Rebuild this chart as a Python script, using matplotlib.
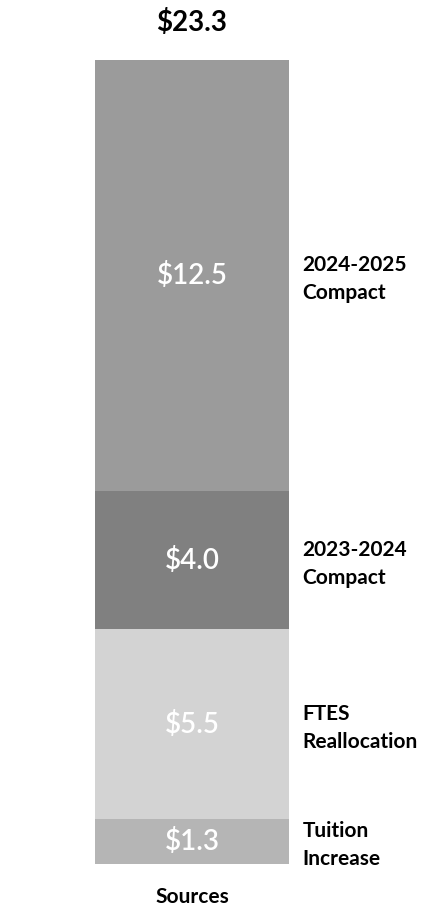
import matplotlib.pyplot as plt

plt.rcParams['font.family'] = ['Lato', 'DejaVu Sans']

categories = ['Tuition\nIncrease', 'FTES\nReallocation', '2023-2024\nCompact', '2024-2025\nCompact']
values = [1.3, 5.5, 4.0, 12.5]
colors = ['#b5b5b5', '#d3d3d3', '#808080', '#9b9b9b']
total = sum(values)

fig = plt.figure(figsize=(4.36, 9.11), dpi=100)
ax = fig.add_axes([95 / 436, 47 / 911, 194 / 436, 804 / 911])

bottom = 0
for cat, val, col in zip(categories, values, colors):
    ax.bar(0, val, width=1, bottom=bottom, color=col, edgecolor='none')
    mid = bottom + val / 2
    ax.text(0, mid, '$%.1f' % val, ha='center', va='center', color='white',
            fontsize=20, fontweight='semibold')
    ax.text(0.57, mid - 0.1, cat, ha='left', va='center', color='black',
            fontsize=15, fontweight='bold', linespacing=1.5, clip_on=False)
    bottom += val

ax.text(0, total + 1.08, '$%.1f' % total, ha='center', va='center',
        fontsize=20, fontweight='bold')
ax.text(0, -0.95, 'Sources', ha='center', va='center', fontsize=15, fontweight='bold')

ax.set_xlim(-0.5, 0.5)
ax.set_ylim(0, total)
ax.axis('off')

fig.savefig('out.png', dpi=100)
